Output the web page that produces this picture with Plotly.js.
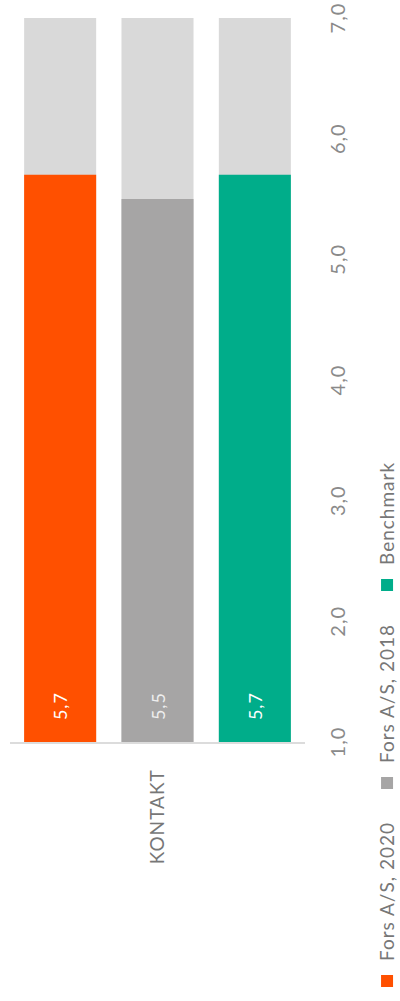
<!DOCTYPE html>
<html>
<head>
<meta charset="utf-8">
<script src="https://cdn.plot.ly/plotly-3.0.1.min.js"></script>
<style>
html,body{margin:0;padding:0;background:#fff;overflow:hidden;width:400px;height:1001px;}
#chart{position:absolute;left:0;top:0;width:1001px;height:400px;transform-origin:0 0;transform:translate(0px,1001px) rotate(-90deg);}
#chart svg text{letter-spacing:1px;}
</style>
</head>
<body>
<div id="chart"></div>
<script>
const categories = ['KONTAKT'];
const seriesNames = ['Fors A/S, 2020', 'Fors A/S, 2018', 'Benchmark'];
const fors2020 = [5.7];
const fors2018 = [5.5];
const benchmark = [5.7];
const scaleMin = 1;
const scaleMax = 7;
const tickValues = [1, 2, 3, 4, 5, 6, 7];

const colors = ['#FF5000', '#A6A5A5', '#00AD8A'];
const textColors = ['#ffffff', '#eeeeee', '#ffffff'];
const bgColor = '#D9D9D9';
const series = [fors2020, fors2018, benchmark];
const FONT = 'Lato, "Open Sans", sans-serif';

const traces = [];
series.forEach((vals, i) => {
  traces.push({
    type: 'bar', orientation: 'h',
    y: categories, x: categories.map(() => scaleMax - scaleMin), base: scaleMin,
    offsetgroup: 'g' + i, showlegend: false, hoverinfo: 'skip',
    marker: {color: bgColor}, textposition: 'none'
  });
});
series.forEach((vals, i) => {
  traces.push({
    type: 'bar', orientation: 'h', name: seriesNames[i],
    y: categories, x: vals.map(v => v - scaleMin), base: scaleMin,
    customdata: vals, offsetgroup: 'g' + i,
    marker: {color: colors[i]},
    texttemplate: '\u00a0\u00a0\u00a0\u00a0%{customdata:.1f}',
    textposition: 'inside', insidetextanchor: 'start',
    textfont: {family: FONT, size: 18, color: textColors[i]},
    constraintext: 'none'
  });
});

const layout = {
  width: 1001, height: 400,
  margin: {l: 259, r: 18, t: 10, b: 95},
  paper_bgcolor: '#fff', plot_bgcolor: '#fff',
  separators: ',.',
  barmode: 'group', bargap: 0.01, bargroupgap: 0.26,
  font: {family: FONT, color: '#777'},
  xaxis: {
    range: [scaleMin, scaleMax], tickvals: tickValues, tickformat: '.1f',
    showgrid: false, zeroline: false, showline: false,
    ticks: 'outside', ticklen: 15, tickcolor: 'rgba(0,0,0,0)',
    tickfont: {family: FONT, size: 20, color: '#8a8a8a'}
  },
  yaxis: {
    autorange: 'reversed', showgrid: false, zeroline: false,
    showline: true, linecolor: '#DCDCDC', linewidth: 1.5,
    ticks: '', ticklabelstandoff: 22,
    tickfont: {family: FONT, size: 19, color: '#777'}
  },
  legend: {
    orientation: 'h', xref: 'container', yref: 'container',
    x: -0.027, xanchor: 'left', y: 0.032, yanchor: 'middle',
    entrywidth: 153, entrywidthmode: 'pixels', itemwidth: 30,
    font: {family: FONT, size: 19, color: '#777'}
  },
  showlegend: true
};

Plotly.newPlot('chart', traces, layout, {displayModeBar: false, staticPlot: true});
</script>
</body>
</html>
